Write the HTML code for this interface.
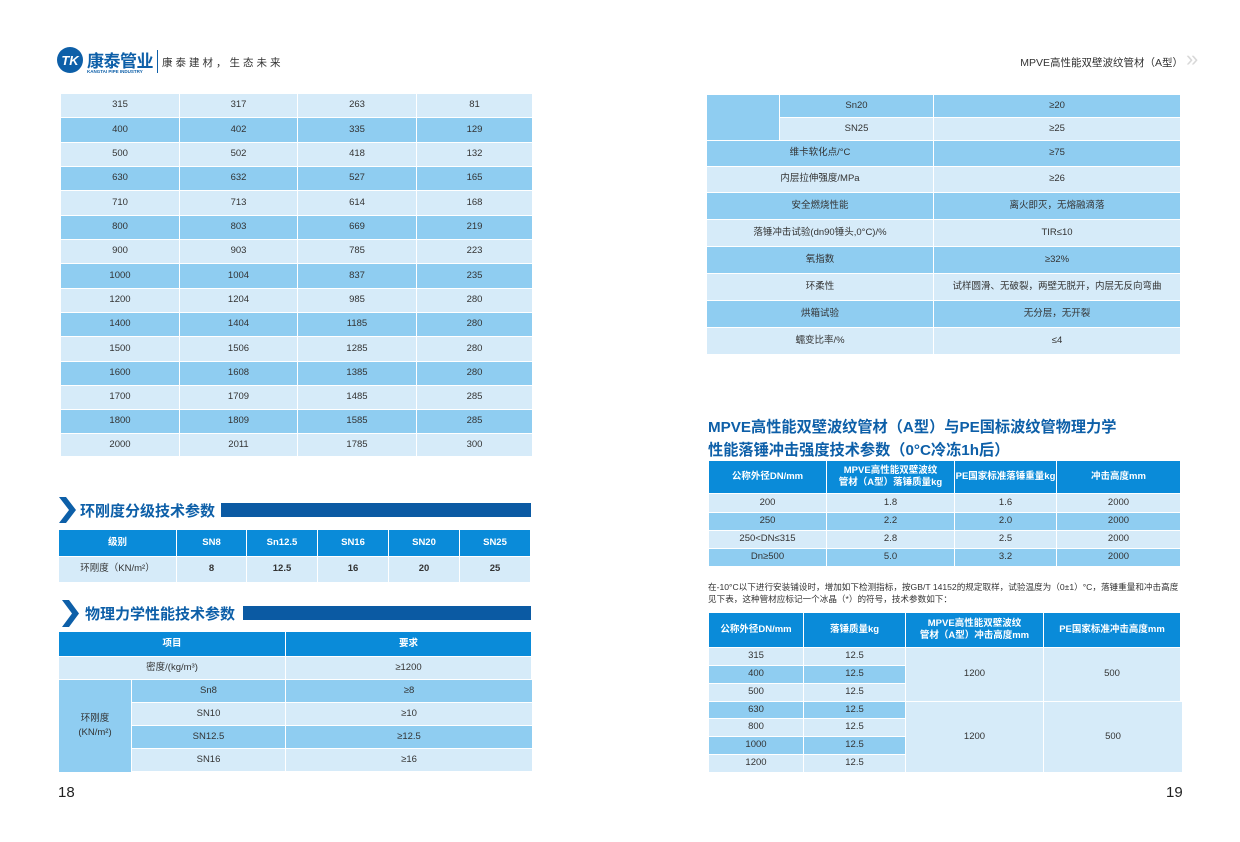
<!DOCTYPE html>
<html><head><meta charset="utf-8"><style>
*{margin:0;padding:0;box-sizing:border-box}
body{width:1240px;height:842px;background:#fff;position:relative;overflow:hidden;font-family:"Liberation Sans","Noto Sans CJK SC",sans-serif;color:#333}
.r{position:absolute;display:flex}
.r>div{display:flex;align-items:center;justify-content:center;text-align:center;border-right:1px solid #fff;border-bottom:1px solid #fff;font-size:9.5px;line-height:1.3}
.L>div,div.L{background:#d6ebf9}
.M>div,div.M{background:#8fcdf1}
.H>div{background:#0a8bd9;color:#fff;font-weight:bold}
.a{position:absolute}
.sec{position:absolute;font-size:15px;font-weight:bold;color:#0d5fa8}
.bar{position:absolute;background:#0b5aa3;height:14px}
.ttl{position:absolute;font-size:15.2px;font-weight:bold;color:#0d5fa8;left:708px}
</style></head><body>
<!-- header left -->
<div class="a" style="left:57px;top:47px;width:26px;height:26px;border-radius:50%;background:#0d5fa8;color:#fff;font:italic bold 13px 'Liberation Sans';display:flex;align-items:center;justify-content:center">TK</div>
<div class="a" style="left:87px;top:47px;font-size:17px;font-weight:bold;color:#0d5fa8;letter-spacing:-0.5px">康泰管业</div>
<div class="a" style="left:87px;top:69px;font-size:4.5px;font-weight:bold;color:#0d5fa8;white-space:nowrap">KANGTAI PIPE INDUSTRY</div>
<div class="a" style="left:157px;top:50px;width:1px;height:23px;background:#0d5fa8"></div>
<div class="a" style="left:162px;top:55px;font-size:10.5px;letter-spacing:3px;color:#333">康泰建材，生态未来</div>
<!-- header right -->
<div class="a" style="left:1000px;top:55px;width:183px;text-align:right;font-size:10.5px;color:#333">MPVE高性能双壁波纹管材（A型）</div>
<div class="a" style="left:1186px;top:46px;font-size:22px;color:#d8d8d8">»</div>

<!-- table 1 -->
<div class="r L" style="left:61px;top:94px;height:24px"><div style="width:119px">315</div><div style="width:118px">317</div><div style="width:119px">263</div><div style="width:116px">81</div></div>
<div class="r M" style="left:61px;top:118px;height:25px"><div style="width:119px">400</div><div style="width:118px">402</div><div style="width:119px">335</div><div style="width:116px">129</div></div>
<div class="r L" style="left:61px;top:143px;height:24px"><div style="width:119px">500</div><div style="width:118px">502</div><div style="width:119px">418</div><div style="width:116px">132</div></div>
<div class="r M" style="left:61px;top:167px;height:24px"><div style="width:119px">630</div><div style="width:118px">632</div><div style="width:119px">527</div><div style="width:116px">165</div></div>
<div class="r L" style="left:61px;top:191px;height:25px"><div style="width:119px">710</div><div style="width:118px">713</div><div style="width:119px">614</div><div style="width:116px">168</div></div>
<div class="r M" style="left:61px;top:216px;height:24px"><div style="width:119px">800</div><div style="width:118px">803</div><div style="width:119px">669</div><div style="width:116px">219</div></div>
<div class="r L" style="left:61px;top:240px;height:24px"><div style="width:119px">900</div><div style="width:118px">903</div><div style="width:119px">785</div><div style="width:116px">223</div></div>
<div class="r M" style="left:61px;top:264px;height:25px"><div style="width:119px">1000</div><div style="width:118px">1004</div><div style="width:119px">837</div><div style="width:116px">235</div></div>
<div class="r L" style="left:61px;top:289px;height:24px"><div style="width:119px">1200</div><div style="width:118px">1204</div><div style="width:119px">985</div><div style="width:116px">280</div></div>
<div class="r M" style="left:61px;top:313px;height:24px"><div style="width:119px">1400</div><div style="width:118px">1404</div><div style="width:119px">1185</div><div style="width:116px">280</div></div>
<div class="r L" style="left:61px;top:337px;height:25px"><div style="width:119px">1500</div><div style="width:118px">1506</div><div style="width:119px">1285</div><div style="width:116px">280</div></div>
<div class="r M" style="left:61px;top:362px;height:24px"><div style="width:119px">1600</div><div style="width:118px">1608</div><div style="width:119px">1385</div><div style="width:116px">280</div></div>
<div class="r L" style="left:61px;top:386px;height:24px"><div style="width:119px">1700</div><div style="width:118px">1709</div><div style="width:119px">1485</div><div style="width:116px">285</div></div>
<div class="r M" style="left:61px;top:410px;height:24px"><div style="width:119px">1800</div><div style="width:118px">1809</div><div style="width:119px">1585</div><div style="width:116px">285</div></div>
<div class="r L" style="left:61px;top:434px;height:23px"><div style="width:119px">2000</div><div style="width:118px">2011</div><div style="width:119px">1785</div><div style="width:116px">300</div></div>

<!-- section 1 -->
<svg class="a" style="left:59px;top:497px" width="18" height="26"><polygon points="0,0 7,0 17,13 7,26 0,26 10,13" fill="#0d5fa8"/></svg>
<div class="sec" style="left:80px;top:500px">环刚度分级技术参数</div>
<div class="bar" style="left:221px;top:503px;width:310px"></div>
<div class="r H" style="left:59px;top:530px;height:27px"><div style="width:118px">级别</div><div style="width:70px">SN8</div><div style="width:71px">Sn12.5</div><div style="width:71px">SN16</div><div style="width:71px">SN20</div><div style="width:71px">SN25</div></div>
<div class="r L" style="left:59px;top:557px;height:26px"><div style="width:118px">环刚度（KN/m²）</div><div style="width:70px;font-weight:bold">8</div><div style="width:71px;font-weight:bold">12.5</div><div style="width:71px;font-weight:bold">16</div><div style="width:71px;font-weight:bold">20</div><div style="width:71px;font-weight:bold">25</div></div>

<!-- section 2 -->
<svg class="a" style="left:62px;top:600px" width="18" height="27"><polygon points="0,0 7,0 17,13.5 7,27 0,27 10,13.5" fill="#0d5fa8"/></svg>
<div class="sec" style="left:85px;top:603px">物理力学性能技术参数</div>
<div class="bar" style="left:243px;top:606px;width:288px"></div>
<div class="r H" style="left:59px;top:632px;height:25px"><div style="width:227px">项目</div><div style="width:246px">要求</div></div>
<div class="r L" style="left:59px;top:657px;height:23px"><div style="width:227px">密度/(kg/m³)</div><div style="width:246px">≥1200</div></div>
<div class="a M" style="left:59px;top:680px;width:73px;height:92px;display:flex;align-items:center;justify-content:center;text-align:center;font-size:9.5px;line-height:1.5;border-right:1px solid #fff">环刚度<br>(KN/m²)</div>
<div class="r M" style="left:132px;top:680px;height:23px"><div style="width:154px">Sn8</div><div style="width:247px">≥8</div></div>
<div class="r L" style="left:132px;top:703px;height:23px"><div style="width:154px">SN10</div><div style="width:247px">≥10</div></div>
<div class="r M" style="left:132px;top:726px;height:23px"><div style="width:154px">SN12.5</div><div style="width:247px">≥12.5</div></div>
<div class="r L" style="left:132px;top:749px;height:23px"><div style="width:154px">SN16</div><div style="width:247px">≥16</div></div>

<div class="a" style="left:58px;top:784px;font-size:15px;color:#222">18</div>
<div class="a" style="left:1166px;top:784px;font-size:15px;color:#222">19</div>

<!-- right top table -->
<div class="a M" style="left:707px;top:95px;width:73px;height:46px;border-right:1px solid #fff;border-bottom:1px solid #fff"></div>
<div class="r M" style="left:780px;top:95px;height:23px"><div style="width:154px">Sn20</div><div style="width:247px">≥20</div></div>
<div class="r L" style="left:780px;top:118px;height:23px"><div style="width:154px">SN25</div><div style="width:247px">≥25</div></div>
<div class="r M" style="left:707px;top:141px;height:26px"><div style="width:227px">维卡软化点/°C</div><div style="width:247px">≥75</div></div>
<div class="r L" style="left:707px;top:167px;height:26px"><div style="width:227px">内层拉伸强度/MPa</div><div style="width:247px">≥26</div></div>
<div class="r M" style="left:707px;top:193px;height:27px"><div style="width:227px">安全燃烧性能</div><div style="width:247px">离火即灭，无熔融滴落</div></div>
<div class="r L" style="left:707px;top:220px;height:27px"><div style="width:227px">落锤冲击试验(dn90锤头,0°C)/%</div><div style="width:247px">TIR≤10</div></div>
<div class="r M" style="left:707px;top:247px;height:27px"><div style="width:227px">氧指数</div><div style="width:247px">≥32%</div></div>
<div class="r L" style="left:707px;top:274px;height:27px"><div style="width:227px">环柔性</div><div style="width:247px">试样圆滑、无破裂，两壁无脱开，内层无反向弯曲</div></div>
<div class="r M" style="left:707px;top:301px;height:27px"><div style="width:227px">烘箱试验</div><div style="width:247px">无分层，无开裂</div></div>
<div class="r L" style="left:707px;top:328px;height:27px"><div style="width:227px">蠕变比率/%</div><div style="width:247px">≤4</div></div>

<div class="ttl" style="top:415px">MPVE高性能双壁波纹管材（A型）与PE国标波纹管物理力学</div>
<div class="ttl" style="top:438px">性能落锤冲击强度技术参数（0°C冷冻1h后）</div>

<div class="r H" style="left:709px;top:461px;height:33px"><div style="width:118px">公称外径DN/mm</div><div style="width:128px">MPVE高性能双壁波纹<br>管材（A型）落锤质量kg</div><div style="width:102px">PE国家标准落锤重量kg</div><div style="width:124px">冲击高度mm</div></div>
<div class="r L" style="left:709px;top:494px;height:19px"><div style="width:118px">200</div><div style="width:128px">1.8</div><div style="width:102px">1.6</div><div style="width:124px">2000</div></div>
<div class="r M" style="left:709px;top:513px;height:18px"><div style="width:118px">250</div><div style="width:128px">2.2</div><div style="width:102px">2.0</div><div style="width:124px">2000</div></div>
<div class="r L" style="left:709px;top:531px;height:18px"><div style="width:118px">250&lt;DN≤315</div><div style="width:128px">2.8</div><div style="width:102px">2.5</div><div style="width:124px">2000</div></div>
<div class="r M" style="left:709px;top:549px;height:18px"><div style="width:118px">Dn≥500</div><div style="width:128px">5.0</div><div style="width:102px">3.2</div><div style="width:124px">2000</div></div>

<div class="a" style="left:708px;top:581px;width:475px;font-size:8.6px;line-height:12px;color:#333">在-10°C以下进行安装铺设时，增加如下检测指标，按GB/T 14152的规定取样，试验温度为（0±1）°C，落锤重量和冲击高度见下表，这种管材应标记一个冰晶（*）的符号，技术参数如下：</div>

<div class="r H" style="left:709px;top:613px;height:35px"><div style="width:95px">公称外径DN/mm</div><div style="width:102px">落锤质量kg</div><div style="width:138px">MPVE高性能双壁波纹<br>管材（A型）冲击高度mm</div><div style="width:137px">PE国家标准冲击高度mm</div></div>
<div class="r L" style="left:709px;top:648px;height:18px"><div style="width:95px">315</div><div style="width:102px">12.5</div></div>
<div class="r M" style="left:709px;top:666px;height:18px"><div style="width:95px">400</div><div style="width:102px">12.5</div></div>
<div class="r L" style="left:709px;top:684px;height:18px"><div style="width:95px">500</div><div style="width:102px">12.5</div></div>
<div class="r M" style="left:709px;top:702px;height:17px"><div style="width:95px">630</div><div style="width:102px">12.5</div></div>
<div class="r L" style="left:709px;top:719px;height:18px"><div style="width:95px">800</div><div style="width:102px">12.5</div></div>
<div class="r M" style="left:709px;top:737px;height:18px"><div style="width:95px">1000</div><div style="width:102px">12.5</div></div>
<div class="r L" style="left:709px;top:755px;height:18px"><div style="width:95px">1200</div><div style="width:102px">12.5</div></div>
<div class="r L" style="left:906px;top:648px;height:54px"><div style="width:138px">1200</div><div style="width:137px">500</div></div>
<div class="r L" style="left:906px;top:702px;height:71px"><div style="width:138px">1200</div><div style="width:139px">500</div></div>
</body></html>
